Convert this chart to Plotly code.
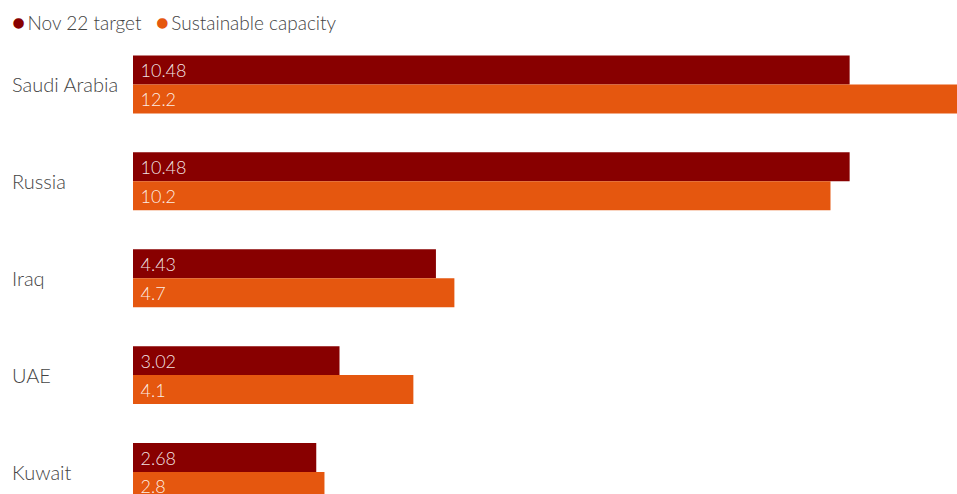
import plotly.graph_objects as go

countries = ["Saudi Arabia", "Russia", "Iraq", "UAE", "Kuwait"]
nov22_target = [10.48, 10.48, 4.43, 3.02, 2.68]
sustainable_capacity = [12.2, 10.2, 4.7, 4.1, 2.8]
series_names = ["Nov 22 target", "Sustainable capacity"]
series_colors = ["#880000", "#e5570f"]

FONT = "Lato, 'Source Sans Pro', sans-serif"

fig = go.Figure()
for name, vals, col in zip(series_names, [nov22_target, sustainable_capacity], series_colors):
    fig.add_trace(go.Bar(
        y=countries, x=vals, name=name, orientation="h",
        marker=dict(color=col, line=dict(width=0)),
        text=[f"\u2005{v}" for v in vals], textposition="inside", insidetextanchor="start",
        textfont=dict(family=FONT, size=18, color="rgba(255,255,255,0.9)", weight=300),
        showlegend=False, cliponaxis=True,
    ))

# category labels, left aligned
for c in countries:
    fig.add_annotation(x=0, xref="paper", y=c, yref="y", text=c, showarrow=False,
                       xanchor="left", xshift=-123,
                       font=dict(family=FONT, size=20, color="#444", weight=300))

# legend
leg = "\u2003".join(
    f"<span style='color:{col};font-size:22px'>●</span>\u2009{n}" for n, col in zip(series_names, series_colors))
fig.add_annotation(x=0, xref="paper", y=1, yref="paper", yshift=15, xshift=-123, text=leg,
                   showarrow=False, xanchor="left", yanchor="middle",
                   font=dict(family=FONT, size=19, color="#444", weight=300))

fig.update_layout(
    width=957, height=494, barmode="group", bargap=0.402, bargroupgap=0,
    margin=dict(l=133, r=0, t=35.5, b=0),
    paper_bgcolor="white", plot_bgcolor="white",
    xaxis=dict(range=[0, 12.05], showgrid=False, zeroline=False, showticklabels=False, visible=False),
    yaxis=dict(range=[4.227, -0.5], showgrid=False, showticklabels=False, zeroline=False, visible=False),
    font=dict(family=FONT),
)
fig.write_html("out.html", config={"displayModeBar": False},
               post_script="document.body.style.margin='0';document.body.style.padding='0';")
